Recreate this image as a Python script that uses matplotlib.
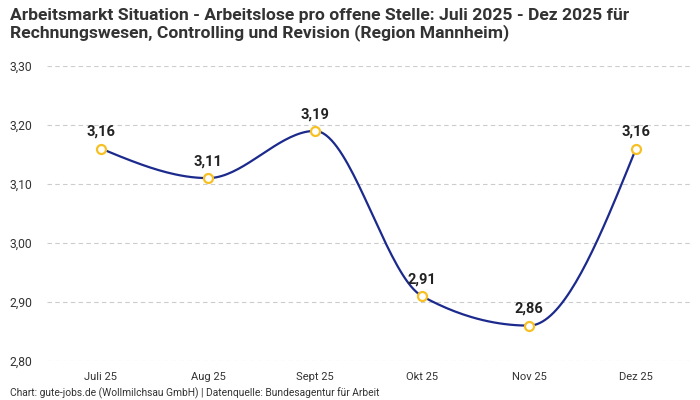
import numpy as np
import matplotlib
matplotlib.use("Agg")
import matplotlib.pyplot as plt

months = ["Juli 25", "Aug 25", "Sept 25", "Okt 25", "Nov 25", "Dez 25"]
values = [3.16, 3.11, 3.19, 2.91, 2.86, 3.16]
yticks = [2.80, 2.90, 3.00, 3.10, 3.20, 3.30]

plt.rcParams["font.family"] = ["Roboto", "DejaVu Sans"]


def monotone_curve(x, y, n=40):
    # monotone cubic (like d3 curveMonotoneX) for drawing the smooth line
    x = np.asarray(x, float)
    y = np.asarray(y, float)
    h = np.diff(x)
    s = np.diff(y) / h
    m = np.zeros_like(y)
    for i in range(1, len(y) - 1):
        if s[i - 1] * s[i] <= 0:
            m[i] = 0
        else:
            p = (s[i - 1] * h[i] + s[i] * h[i - 1]) / (h[i - 1] + h[i])
            m[i] = (np.sign(s[i - 1]) + np.sign(s[i])) * min(abs(s[i - 1]), abs(s[i]), 0.5 * abs(p))
    m[0] = (3 * s[0] - m[1]) / 2 if len(y) > 2 else s[0]
    m[-1] = (3 * s[-1] - m[-2]) / 2 if len(y) > 2 else s[-1]
    xs, ys = [], []
    for i in range(len(x) - 1):
        t = np.linspace(0, 1, n)
        h00 = 2 * t**3 - 3 * t**2 + 1
        h10 = t**3 - 2 * t**2 + t
        h01 = -2 * t**3 + 3 * t**2
        h11 = t**3 - t**2
        xs.append(x[i] + t * h[i])
        ys.append(h00 * y[i] + h10 * h[i] * m[i] + h01 * y[i + 1] + h11 * h[i] * m[i + 1])
    return np.concatenate(xs), np.concatenate(ys)


fig = plt.figure(figsize=(7, 4), dpi=100)
ax = fig.add_axes([47.5 / 700, 39 / 400, 642 / 700, 295 / 400])

xi = np.arange(len(months))
cx, cy = monotone_curve(xi, values)
ax.plot(cx, cy, color="#1b2a8c", lw=1.6, zorder=3)
ax.scatter(xi, values, s=42, facecolor="white", edgecolor="#f6c125", linewidth=1.6, zorder=4)

for x, v in zip(xi, values):
    ax.annotate(f"{v:.2f}".replace(".", ","), (x, v), xytext=(0, 7), textcoords="offset points",
                ha="center", va="bottom", fontsize=10.5, fontweight="bold", color="#222222")

ax.set_xlim(-0.5, len(months) - 0.5)
ax.set_ylim(2.80, 3.30)
ax.set_yticks(yticks)
ax.set_yticklabels([f"{t:.2f}".replace(".", ",") for t in yticks])
ax.set_xticks(xi)
ax.set_xticklabels(months)
ax.tick_params(length=0, labelsize=8, colors="#333333")
ax.tick_params(axis="y", pad=11, labelsize=8.7)
ax.tick_params(axis="x", pad=8)
ax.grid(axis="y", color="#cccccc", linestyle=(0, (4, 3)), linewidth=0.8)
for sp in ax.spines.values():
    sp.set_visible(False)

fig.text(10 / 700, 1 - 8 / 400,
         "Arbeitsmarkt Situation - Arbeitslose pro offene Stelle: Juli 2025 - Dez 2025 für\n"
         "Rechnungswesen, Controlling und Revision (Region Mannheim)",
         ha="left", va="top", fontsize=12.6, fontweight="bold", color="#333333", linespacing=1.1)
fig.text(10 / 700, 1 - 393 / 400,
         "Chart: gute-jobs.de (Wollmilchsau GmbH) | Datenquelle: Bundesagentur für Arbeit",
         ha="left", va="center", fontsize=7.4, color="#333333")

fig.savefig("out.png", dpi=100)
